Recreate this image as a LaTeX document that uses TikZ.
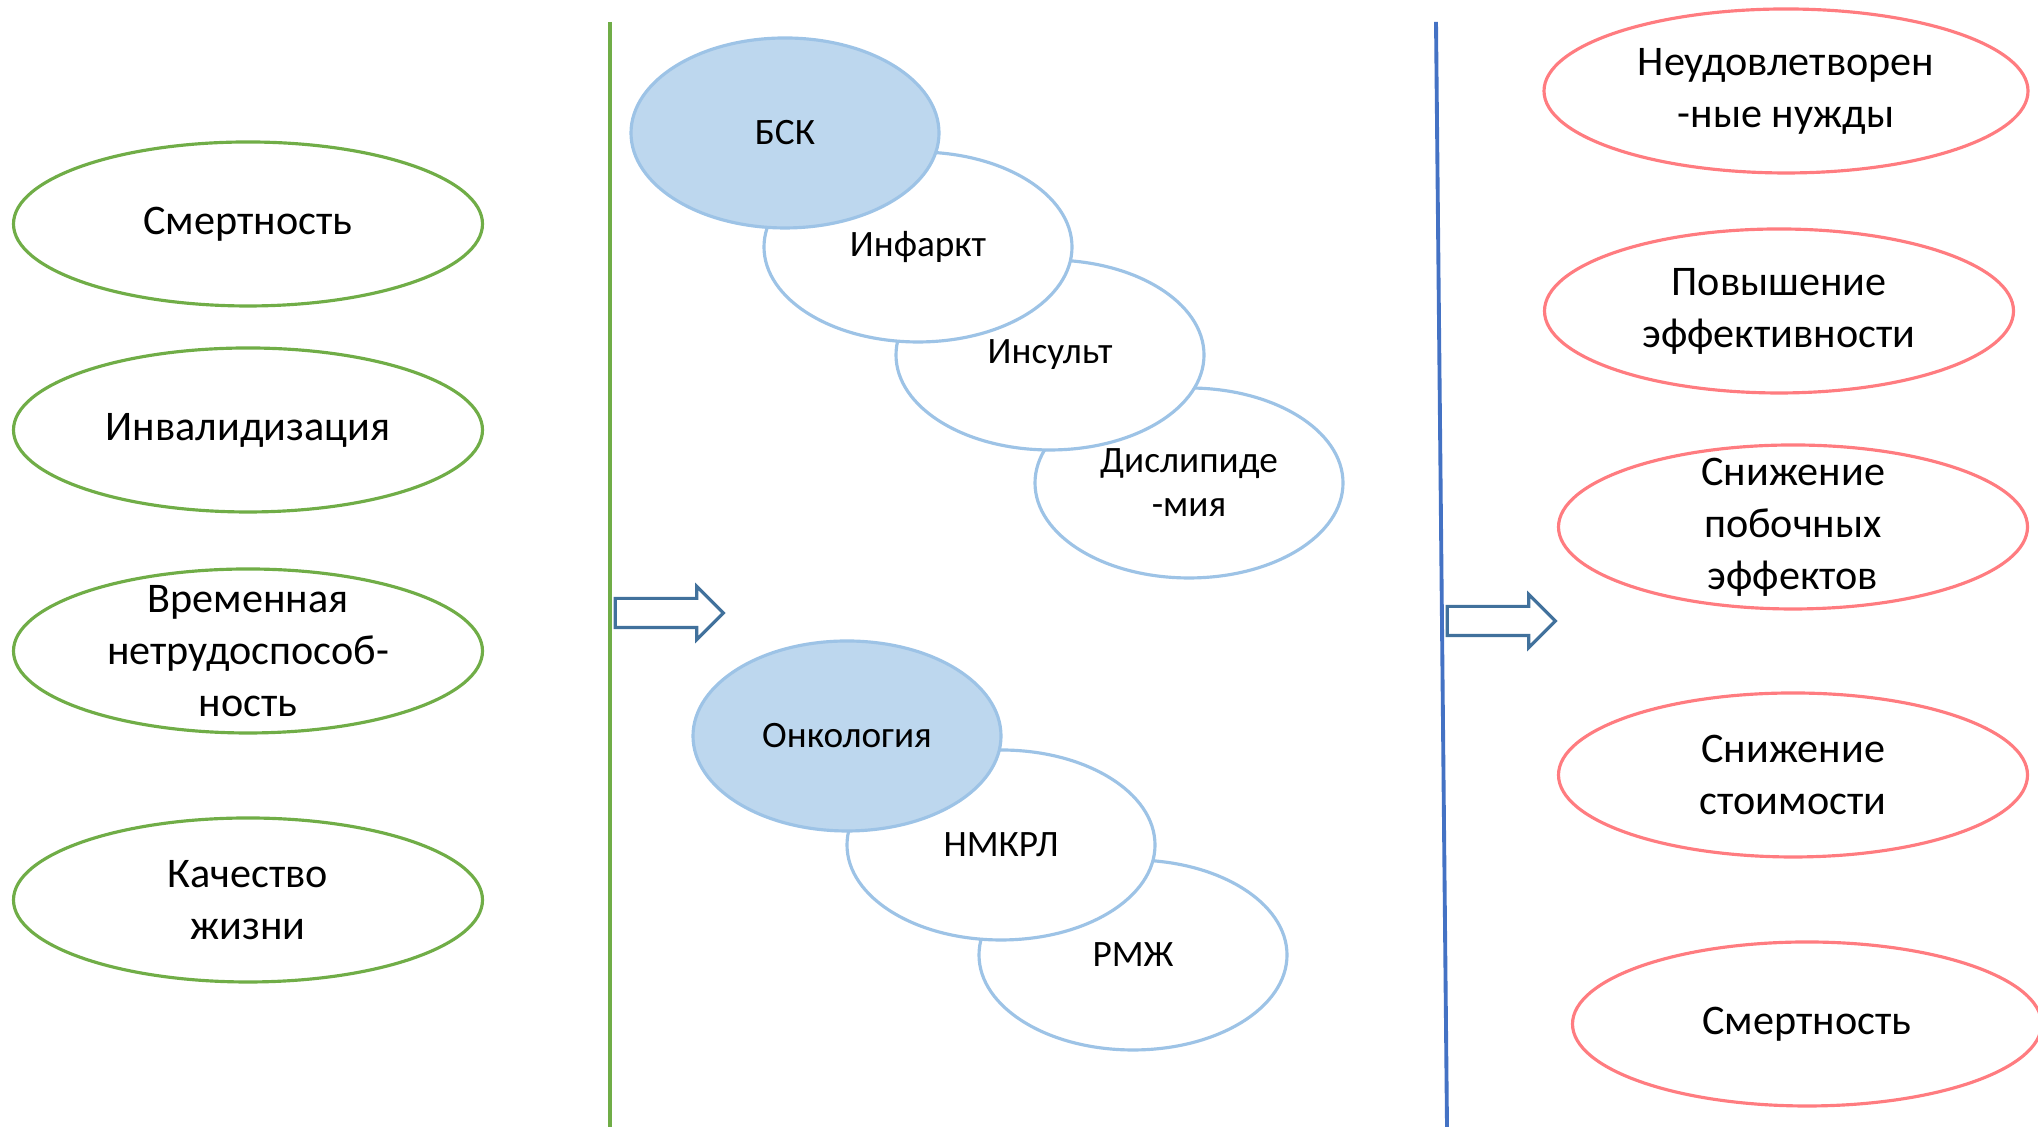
\documentclass[tikz,border=0pt]{standalone}
\usepackage{fontspec}
\setmainfont{Carlito}
\usepackage{tikz}
\usetikzlibrary{shapes.geometric, shapes.arrows, positioning}
\definecolor{outcomegreen}{HTML}{70AD47}
\definecolor{diseaseblue}{HTML}{9DC3E6}
\definecolor{diseasefill}{HTML}{BDD7EE}
\definecolor{dividerblue}{HTML}{4472C4}
\definecolor{arrowblue}{HTML}{41719C}
\definecolor{goalred}{HTML}{FF7C80}

\begin{document}
\begin{tikzpicture}[
  outcome/.style={draw=outcomegreen, line width=0.9pt, ellipse, minimum width=4.69cm, minimum height=1.64cm, inner sep=0pt, align=center, font=\fontsize{12}{14.8}\selectfont},
  disease/.style={draw=diseaseblue, fill=white, line width=0.9pt, ellipse, minimum width=3.08cm, minimum height=1.90cm, inner sep=0pt, align=center, font=\fontsize{10.6}{12.5}\selectfont},
  group/.style={disease, fill=diseasefill},
  goal/.style={draw=goalred, line width=0.9pt, ellipse, minimum width=4.69cm, minimum height=1.64cm, inner sep=0pt, align=center, font=\fontsize{12}{14.8}\selectfont},
  threeline/.style={inner ysep=-7pt},
  blockarrow/.style={draw=arrowblue, line width=0.9pt, single arrow, single arrow head extend=0.12cm, inner sep=0.13cm, minimum height=1.08cm}
]
  \useasboundingbox (0,0) rectangle (20.38,11.27);

  % left column
  \node[outcome] (mort) at (2.48,9.03) {Смертность};
  \node[outcome, on grid, below=2.06cm of mort] (disab) {Инвалидизация};
  \node[outcome, threeline, on grid, below=2.21cm of disab] (tempdis) {Временная\\нетрудоспособ-\\ность};
  \node[outcome, on grid, below=2.49cm of tempdis] (qol) {Качество\\жизни};

  % dividers
  \draw[outcomegreen, line width=1.1pt] (6.10,11.05) -- (6.10,0);
  \draw[dividerblue, line width=1.1pt] (14.36,11.05) -- (14.47,0);

  % cardiovascular group, drawn back to front
  \node[disease] (dyslip) at (11.89,6.44) {Дислипиде\\-мия};
  \node[disease, on grid, above left=1.28cm and 1.39cm of dyslip] (stroke) {Инсульт};
  \node[disease, on grid, above left=1.08cm and 1.32cm of stroke] (infarct) {Инфаркт};
  \node[group, on grid, above left=1.14cm and 1.33cm of infarct] (bsk) {БСК};

  % oncology group
  \node[disease] (rmzh) at (11.33,1.72) {РМЖ};
  \node[disease, on grid, above left=1.10cm and 1.32cm of rmzh] (nsclc) {НМКРЛ};
  \node[group, on grid, above left=1.09cm and 1.54cm of nsclc] (onco) {Онкология};

  % block arrows
  \node[blockarrow] (leftarr) at (6.62,5.14) {};
  \node[blockarrow] (rightarr) at (14.94,5.06) {};

  % right column
  \node[goal, minimum width=4.84cm] (unmet) at (17.86,10.36) {Неудовлетворен\\-ные нужды};
  \node[goal] (effic) at (17.79,8.16) {Повышение\\эффективности};
  \node[goal, threeline] (sidefx) at (17.93,6.00) {Снижение\\побочных\\эффектов};
  \node[goal] (cost) at (17.93,3.52) {Снижение\\стоимости};
  \node[goal] (mortr) at (18.07,1.03) {Смертность};
\end{tikzpicture}
\end{document}
